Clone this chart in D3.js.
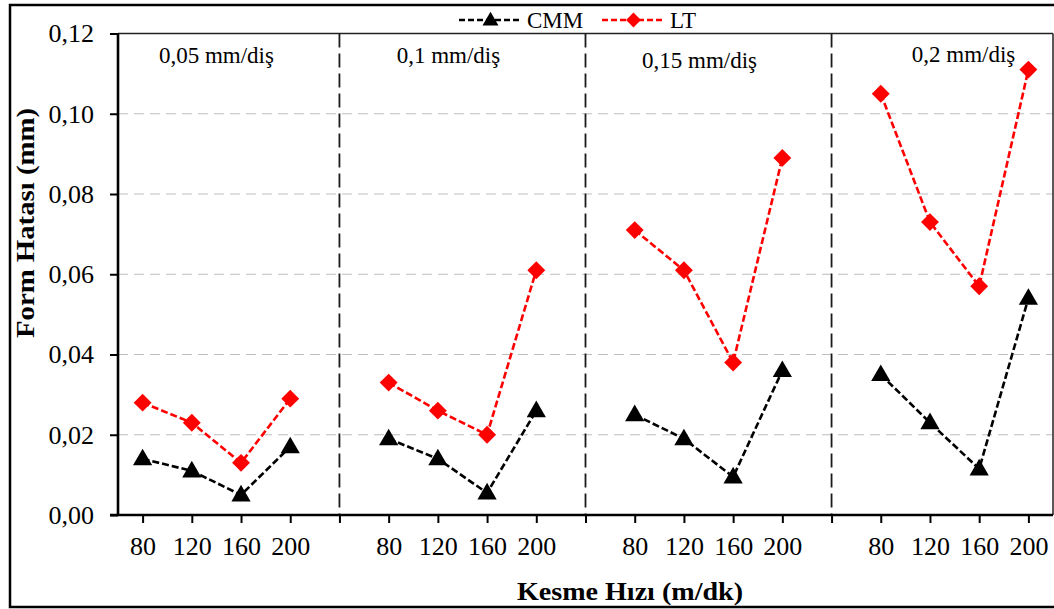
<!DOCTYPE html>
<html>
<head>
<meta charset="utf-8">
<script src="https://cdn.jsdelivr.net/npm/d3@7"></script>
<style>
  html, body { margin: 0; padding: 0; background: #fff; }
  svg { display: block; }
  text { font-family: "Liberation Serif", "Times New Roman", serif; fill: #000; }
</style>
</head>
<body>
<svg id="chart" width="1054" height="609"></svg>
<script>
// ---- data ----
const speeds = ["80", "120", "160", "200"];
const feeds = ["0,05 mm/diş", "0,1 mm/diş", "0,15 mm/diş", "0,2 mm/diş"];
const cmmValues = [
  [0.014, 0.011, 0.005, 0.017],
  [0.019, 0.014, 0.0055, 0.026],
  [0.025, 0.019, 0.0095, 0.036],
  [0.035, 0.023, 0.0115, 0.054]
];
const ltValues = [
  [0.028, 0.023, 0.013, 0.029],
  [0.033, 0.026, 0.020, 0.061],
  [0.071, 0.061, 0.038, 0.089],
  [0.105, 0.073, 0.057, 0.111]
];
const yTickValues = [0, 0.02, 0.04, 0.06, 0.08, 0.10, 0.12];
const seriesNames = ["CMM", "LT"];
const yTitle = "Form Hatası (mm)";
const xTitle = "Kesme Hızı (m/dk)";

// ---- layout ----
const svg = d3.select("#chart");
const L = 118, R = 1053, T = 33.5, B = 515;

// categories: 4 speeds per feed, separated by a blank slot
const cats = [];
feeds.forEach((f, g) => {
  speeds.forEach((s, i) => cats.push({ key: g + "-" + i, label: s, g, i, blank: false }));
  if (g < feeds.length - 1) cats.push({ key: g + "-gap", label: "", g, blank: true });
});

const x = d3.scalePoint().domain(cats.map(c => c.key)).range([L, R]).padding(0.5);
const y = d3.scaleLinear().domain([0, 0.12]).range([B, T]);

// outer frame
svg.append("rect").attr("x", 10).attr("y", 5).attr("width", 1060).attr("height", 602)
  .attr("fill", "none").attr("stroke", "#000").attr("stroke-width", 2.5);

// gridlines
svg.append("g").selectAll("line").data(yTickValues.filter(v => v > 0 && v < 0.12)).join("line")
  .attr("x1", L).attr("x2", R).attr("y1", d => y(d)).attr("y2", d => y(d))
  .attr("stroke", "#bdbdbd").attr("stroke-width", 1.2).attr("stroke-dasharray", "10,6");

// plot border top/right
svg.append("line").attr("x1", L).attr("x2", R).attr("y1", T).attr("y2", T)
  .attr("stroke", "#222").attr("stroke-width", 1.5);
svg.append("line").attr("x1", R).attr("x2", R).attr("y1", T).attr("y2", B)
  .attr("stroke", "#222").attr("stroke-width", 1.5);

// panel dividers
svg.append("g").selectAll("line").data(cats.filter(c => c.blank)).join("line")
  .attr("x1", d => x(d.key)).attr("x2", d => x(d.key)).attr("y1", T).attr("y2", B)
  .attr("stroke", "#1a1a1a").attr("stroke-width", 1.8).attr("stroke-dasharray", "14,6");

// y axis
const yAxis = d3.axisLeft(y).tickValues(yTickValues).tickSize(8).tickPadding(16)
  .tickFormat(d => d3.format(".2f")(d).replace(".", ","));
const gy = svg.append("g").attr("transform", `translate(${L},0)`).call(yAxis);
gy.select(".domain").attr("stroke", "#000").attr("stroke-width", 2.6).attr("d", `M0,${T}V${B}`);
gy.selectAll(".tick line").attr("stroke", "#000").attr("stroke-width", 2);
gy.selectAll(".tick text").attr("font-size", 26).attr("font-family", "Liberation Serif, serif").attr("fill", "#000");

// x axis
const xAxis = d3.axisBottom(x).tickSize(8).tickPadding(14)
  .tickFormat(k => cats.find(c => c.key === k).label);
const gx = svg.append("g").attr("transform", `translate(0,${B})`).call(xAxis);
gx.select(".domain").attr("stroke", "#000").attr("stroke-width", 2.6).attr("d", `M${L - 8},0H${R}`);
gx.selectAll(".tick line").attr("stroke", "#000").attr("stroke-width", 2);
gx.selectAll(".tick text").attr("font-size", 26).attr("font-family", "Liberation Serif, serif").attr("fill", "#000");

// series
const line = d3.line().x(d => d.x).y(d => d.y);
const triangle = d3.symbol().type(d3.symbolTriangle).size(160);
const diamond = d3.symbol().type(d3.symbolSquare).size(160);

function pts(values, g) {
  return values[g].map((v, i) => ({ x: x(g + "-" + i), y: y(v) }));
}

const series = [
  { name: seriesNames[0], values: cmmValues, color: "#000", sym: triangle, rot: 0 },
  { name: seriesNames[1], values: ltValues, color: "#ff0000", sym: diamond, rot: 45 }
];

series.forEach(s => {
  const gS = svg.append("g");
  feeds.forEach((f, g) => {
    const p = pts(s.values, g);
    gS.append("path").attr("d", line(p)).attr("fill", "none")
      .attr("stroke", s.color).attr("stroke-width", 2.6).attr("stroke-dasharray", "7,3");
    gS.selectAll(null).data(p).join("path")
      .attr("d", s.sym())
      .attr("transform", d => `translate(${d.x},${d.y + (s.rot ? 0 : 1)}) rotate(${s.rot})`)
      .attr("fill", s.color);
  });
});

// panel labels
const labelDx = [0, -14, -9, 9];
const labelY = [63, 63, 68, 62];
feeds.forEach((f, g) => {
  const cx = (x(g + "-1") + x(g + "-2")) / 2 + labelDx[g];
  svg.append("text").attr("x", cx).attr("y", labelY[g]).attr("text-anchor", "middle")
    .attr("font-size", 23).text(f);
});

// legend
const legend = [
  { s: series[0], x0: 459, x1: 522, tx: 527 },
  { s: series[1], x0: 602, x1: 665, tx: 670 }
];
legend.forEach(l => {
  const ly = 20;
  svg.append("line").attr("x1", l.x0).attr("x2", l.x1).attr("y1", ly).attr("y2", ly)
    .attr("stroke", l.s.color).attr("stroke-width", 2.6).attr("stroke-dasharray", "6,3");
  svg.append("path").attr("d", l.s.sym.size(110)())
    .attr("transform", `translate(${(l.x0 + l.x1) / 2},${ly + (l.s.rot ? 0 : 1)}) rotate(${l.s.rot})`)
    .attr("fill", l.s.color);
  svg.append("text").attr("x", l.tx).attr("y", 28).attr("font-size", 23).text(l.s.name);
});

// axis titles
svg.append("text").attr("x", 630).attr("y", 600).attr("text-anchor", "middle")
  .attr("font-size", 26).attr("font-weight", "bold")
  .attr("textLength", 226).attr("lengthAdjust", "spacingAndGlyphs").text(xTitle);
svg.append("text").attr("transform", "translate(34,223) rotate(-90)").attr("text-anchor", "middle")
  .attr("font-size", 26).attr("font-weight", "bold")
  .attr("textLength", 230).attr("lengthAdjust", "spacingAndGlyphs").text(yTitle);
</script>
</body>
</html>
